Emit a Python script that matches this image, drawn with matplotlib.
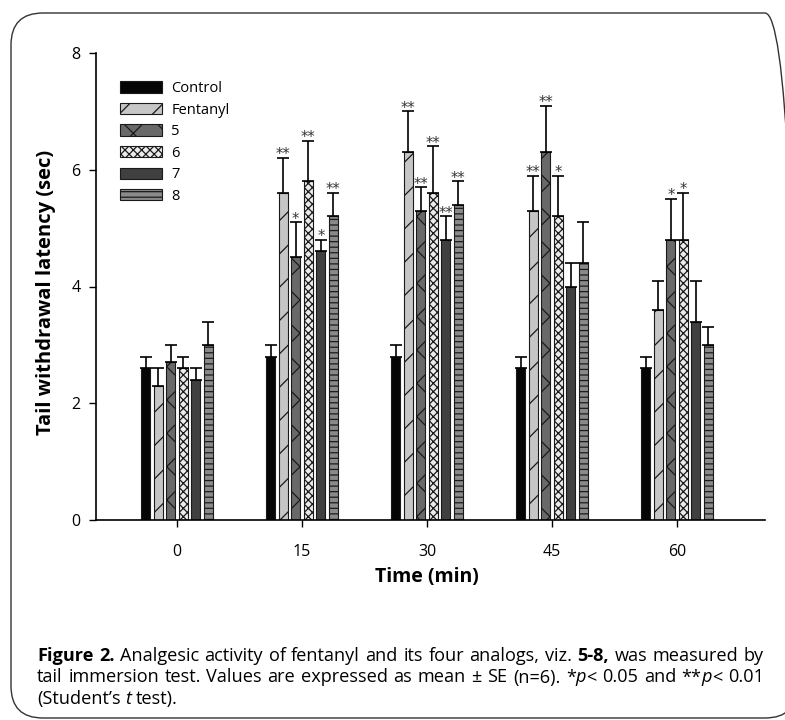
import numpy as np
import matplotlib
matplotlib.use("Agg")
import matplotlib.pyplot as plt
from matplotlib.patches import FancyBboxPatch
from matplotlib.transforms import IdentityTransform

plt.rcParams['font.family'] = ['Open Sans', 'DejaVu Sans']
plt.rcParams['hatch.linewidth'] = 0.9

# data
times = ['0', '15', '30', '45', '60']
series = ['Control', 'Fentanyl', '5', '6', '7', '8']
means = {
    'Control':  [2.6, 2.8, 2.8, 2.6, 2.6],
    'Fentanyl': [2.3, 5.6, 6.3, 5.3, 3.6],
    '5':        [2.7, 4.5, 5.3, 6.3, 4.8],
    '6':        [2.6, 5.8, 5.6, 5.2, 4.8],
    '7':        [2.4, 4.6, 4.8, 4.0, 3.4],
    '8':        [3.0, 5.2, 5.4, 4.4, 3.0],
}
errors = {
    'Control':  [0.2, 0.2, 0.2, 0.2, 0.2],
    'Fentanyl': [0.3, 0.6, 0.7, 0.6, 0.5],
    '5':        [0.3, 0.6, 0.4, 0.8, 0.7],
    '6':        [0.2, 0.7, 0.8, 0.7, 0.8],
    '7':        [0.2, 0.2, 0.4, 0.4, 0.7],
    '8':        [0.4, 0.4, 0.4, 0.7, 0.3],
}
stars = {
    'Control':  ['', '', '', '', ''],
    'Fentanyl': ['', '**', '**', '**', ''],
    '5':        ['', '*', '**', '**', '*'],
    '6':        ['', '**', '**', '*', '*'],
    '7':        ['', '*', '**', '', ''],
    '8':        ['', '**', '**', '', ''],
}

styles = {
    'Control':  dict(color='#050505', hatch=None),
    'Fentanyl': dict(color='#c6c6c6', hatch='/'),
    '5':        dict(color='#696969', hatch='x'),
    '6':        dict(color='#ececec', hatch='xxxx'),
    '7':        dict(color='#404040', hatch=None),
    '8':        dict(color='#8a8a8a', hatch='---'),
}

fig = plt.figure(figsize=(7.85, 7.2), dpi=100)

# rounded border around the whole panel
frame = FancyBboxPatch((0.11, 0.02), 7.86, 7.05,
                       boxstyle='round,pad=0,rounding_size=0.32',
                       transform=fig.dpi_scale_trans, facecolor='none',
                       edgecolor='#333333', linewidth=1.0)
fig.patches.append(frame)

ax = fig.add_axes([96 / 785, 200 / 720, 669 / 785, 467 / 720])

x = np.arange(len(times))
pitch = 0.1
width = 0.073
handles = []
for i, name in enumerate(series):
    pos = x + (i - 2.5) * pitch
    st = styles[name]
    b = ax.bar(pos, means[name], width, color=st['color'], hatch=st['hatch'],
               edgecolor='#1a1a1a', linewidth=0.8, label=name, zorder=2)
    handles.append(b)
    ax.errorbar(pos, means[name], yerr=[np.zeros(len(times)), errors[name]],
                fmt='none', ecolor='black', elinewidth=1.2, capsize=4,
                capthick=1.2, zorder=3)
    for xp, m, e, s in zip(pos, means[name], errors[name], stars[name]):
        if s:
            ax.annotate(s, (xp, m + e), xytext=(0, -1), textcoords='offset points',
                        ha='center', va='baseline', fontsize=10.5,
                        family='DejaVu Sans', color='#333333')

ax.set_xlim(-0.648, 4.704)
ax.set_ylim(0, 8)
ax.set_yticks([0, 2, 4, 6, 8])
ax.set_xticks(x)
ax.set_xticklabels(times)
ax.tick_params(axis='both', labelsize=11.5, length=5, width=1, direction='out')
ax.tick_params(axis='x', pad=12)
ax.tick_params(axis='y', pad=6)
for side in ['top', 'right']:
    ax.spines[side].set_visible(False)
for side in ['left', 'bottom']:
    ax.spines[side].set_linewidth(1.2)

fig.text(46 / 785, 1 - 292 / 720, 'Tail withdrawal latency (sec)', rotation=90,
         ha='center', va='center', fontsize=14.5, fontweight='bold')
fig.text(427 / 785, 1 - 577 / 720, 'Time (min)', ha='center', va='center',
         fontsize=14, fontweight='bold')

leg = ax.legend(handles=handles, labels=series, loc='upper left',
                bbox_to_anchor=(0.036, 0.94), frameon=False, fontsize=10.5,
                handlelength=2.9, handleheight=0.8, labelspacing=0.45,
                handletextpad=0.6, borderpad=0, borderaxespad=0)

# caption, drawn word by word so lines 1 and 2 can be justified
B = dict(fontweight='bold')
I = dict(fontstyle='italic')
R = dict()
cap_lines = [
    [[('Figure', B)], [('2.', B)], [('Analgesic', R)], [('activity', R)], [('of', R)],
     [('fentanyl', R)], [('and', R)], [('its', R)], [('four', R)], [('analogs,', R)],
     [('viz.', R)], [('5-8,', B)], [('was', R)], [('measured', R)], [('by', R)]],
    [[('tail', R)], [('immersion', R)], [('test.', R)], [('Values', R)], [('are', R)],
     [('expressed', R)], [('as', R)], [('mean', R)], [('\u00b1', R)], [('SE', R)],
     [('(n=6).', R)], [('*', R), ('p', I), ('<', R)], [('0.05', R)], [('and', R)],
     [('**', R), ('p', I), ('<', R)], [('0.01', R)]],
    [[('(Student\u2019s', R)], [('t', I)], [('test).', R)]],
]
cap_fs = 13.1
x0, x1 = 37, 764
baselines = [661, 682.5, 704]
renderer = fig.canvas.get_renderer()
for li, words in enumerate(cap_lines):
    ybase = 720 - baselines[li]
    placed = []
    for w in words:
        arts = []
        for s, kw in w:
            t = fig.text(0, ybase, s, fontsize=cap_fs, transform=IdentityTransform(),
                         ha='left', va='baseline', **kw)
            arts.append(t)
        placed.append(arts)
    widths = []
    for arts in placed:
        ws = [a.get_window_extent(renderer).width for a in arts]
        widths.append(ws)
    total = sum(sum(ws) for ws in widths)
    if li < 2:
        gap = (x1 - x0 - total) / (len(words) - 1)
    else:
        gap = cap_fs * 100 / 72 * 0.26
    xc = x0
    for arts, ws in zip(placed, widths):
        for a, wd in zip(arts, ws):
            a.set_x(xc)
            xc += wd
        xc += gap

fig.savefig('out.png', dpi=100)
